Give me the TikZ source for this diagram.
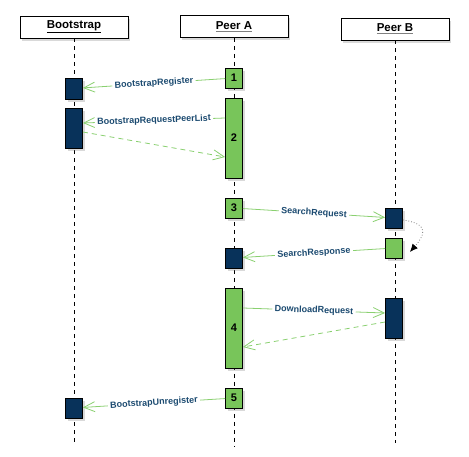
\documentclass[tikz,border=0pt]{standalone}
\usepackage{fontspec}
\setsansfont{Liberation Sans}
\usepackage{tikz}
\usetikzlibrary{arrows,arrows.meta,shadows}
\definecolor{navy}{HTML}{08325A}
\definecolor{leaf}{HTML}{78C55A}
\definecolor{wire}{HTML}{8AD070}
\definecolor{ink}{HTML}{1B4A70}
\newcommand{\hdr}[2]{{\color{#1}\underline{\color{black}#2}}}

\begin{document}
\begin{tikzpicture}[x=1pt,y=-1pt,>={Straight Barb[length=11pt,width=10pt]},
                    font=\sffamily\bfseries]
  \tikzstyle{head}=[rectangle,draw=black,fill=white,line width=0.8pt,minimum width=108pt,
                    minimum height=22pt,font=\sffamily\bfseries\fontsize{11.5}{12}\selectfont,
                    drop shadow={shadow xshift=2pt,shadow yshift=-3pt,opacity=0.3}]
  \tikzstyle{act}=[rectangle,draw=black,line width=0.8pt,minimum width=17pt,inner sep=0pt,
                   font=\sffamily\bfseries\fontsize{11}{12}\selectfont,
                   drop shadow={shadow xshift=2pt,shadow yshift=-3pt,opacity=0.3}]
  \tikzstyle{busy}=[act,fill=leaf]
  \tikzstyle{wait}=[act,fill=navy]
  \tikzstyle{life}=[draw=black,line width=0.6pt,dash pattern=on 4pt off 4pt]
  \tikzstyle{msg}=[->,draw=wire,line width=0.8pt]
  \tikzstyle{reply}=[msg,dash pattern=on 5pt off 4pt]
  \tikzstyle{tag}=[fill=white,text=ink,sloped,inner sep=2.5pt,
                   font=\sffamily\bfseries\fontsize{9}{10}\selectfont]

  \useasboundingbox (0,0) rectangle (469,457);

  % lifelines
  \node[head] (boot)  at (74,27)   {\hdr{black}{Bootstrap}};
  \node[head] (peera) at (234,26.5) {\hdr{gray}{Peer A}};
  \node[head] (peerb) at (395,29)  {\hdr{gray}{Peer B}};
  \coordinate (bootend)  at (74,443);
  \coordinate (peeraend) at (234,446);
  \coordinate (peerbend) at (395,443);
  \draw[life] (boot) -- (bootend);
  \draw[life] (peera) -- (peeraend);
  \draw[life] (peerb) -- (peerbend);

  % activations
  \node[busy,minimum height=20pt] (a1) at (234,78)  {1};
  \node[busy,minimum height=80pt] (a2) at (234,138) {2};
  \node[busy,minimum height=20pt] (a3) at (234,208) {3};
  \node[wait,minimum height=20pt] (a3r) at (234,258) {};
  \node[busy,minimum height=80pt] (a4) at (234,328) {4};
  \node[busy,minimum height=20pt] (a5) at (234,398) {5};

  \node[wait,minimum height=21pt] (b1) at (74,88.5) {};
  \node[wait,minimum height=40pt] (b2) at (74,128)  {};
  \node[wait,minimum height=20pt] (b3) at (74,408)  {};

  \node[wait,minimum height=20pt] (pbs) at (394,218) {};
  \node[busy,minimum height=20pt] (pbr) at (394,248) {};
  \node[wait,minimum height=40pt] (pbd) at (394,318) {};

  % messages
  \path (a1) edge[msg] node[tag] {BootstrapRegister} (b1)
        ([yshift=20pt]a2.west) edge[msg] node[tag] {BootstrapRequestPeerList} ([yshift=5pt]b2.east)
        ([yshift=-4pt]b2.east) edge[reply] ([yshift=-19pt]a2.west)
        (a3) edge[msg] node[tag] {SearchRequest} (pbs)
        (pbr) edge[msg] node[tag] {SearchResponse} (a3r)
        ([yshift=20pt]a4.east) edge[msg] node[tag] {DownloadRequest} ([yshift=5pt]pbd.west)
        ([yshift=-4pt]pbd.west) edge[reply] ([yshift=-19pt]a4.east)
        (a5) edge[msg] node[tag] {BootstrapUnregister} (b3);

  \draw[dotted,gray,line width=0.8pt,-{Latex[black,length=8pt,width=7pt]}]
    ([yshift=-2pt]pbs.east) .. controls +(28,4) and +(14,-16) .. ([xshift=7pt,yshift=-4pt]pbr.east);
\end{tikzpicture}
\end{document}
